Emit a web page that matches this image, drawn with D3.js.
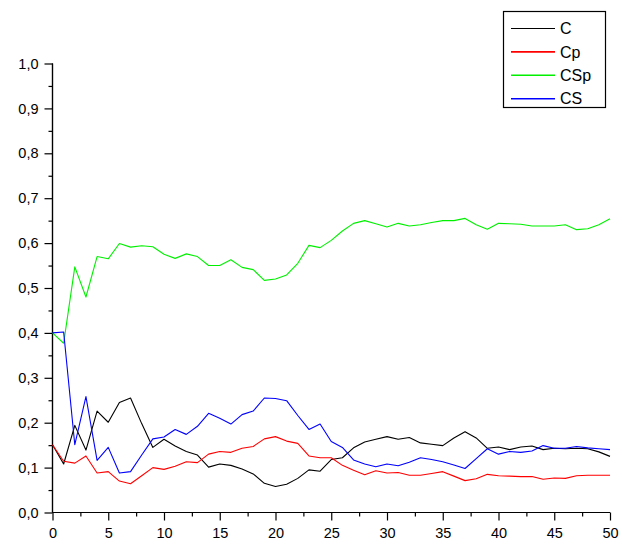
<!DOCTYPE html>
<html><head><meta charset="utf-8">
<script src="https://cdn.jsdelivr.net/npm/d3@7"></script>
<style>
html,body{margin:0;padding:0;background:#fff;}
svg{display:block;font-family:"Liberation Sans",Arial,sans-serif;}
</style></head>
<body>
<svg id="chart" width="622" height="545"></svg>
<script>
const seriesNames = ["C","Cp","CSp","CS"];
const seriesColors = ["#000000","#ff0000","#00f000","#0000ff"];
const xValues = d3.range(0,51);
const C = [0.151,0.108,0.194,0.139,0.226,0.201,0.245,0.255,0.198,0.145,0.163,0.148,0.136,0.128,0.101,0.108,0.105,0.097,0.086,0.065,0.058,0.063,0.076,0.095,0.092,0.118,0.122,0.144,0.157,0.163,0.169,0.163,0.167,0.155,0.152,0.149,0.166,0.180,0.166,0.143,0.146,0.140,0.146,0.148,0.140,0.143,0.142,0.143,0.142,0.135,0.125];
const Cp = [0.151,0.114,0.110,0.126,0.088,0.091,0.070,0.064,0.082,0.100,0.096,0.103,0.113,0.111,0.130,0.136,0.134,0.143,0.147,0.164,0.169,0.159,0.154,0.126,0.122,0.122,0.105,0.094,0.084,0.093,0.088,0.089,0.083,0.083,0.087,0.091,0.081,0.071,0.075,0.085,0.082,0.081,0.080,0.080,0.074,0.077,0.076,0.082,0.083,0.083,0.083];
const CSp = [0.400,0.377,0.547,0.480,0.570,0.565,0.599,0.591,0.594,0.592,0.575,0.566,0.576,0.570,0.550,0.550,0.563,0.546,0.541,0.517,0.520,0.529,0.555,0.595,0.590,0.606,0.627,0.644,0.650,0.643,0.636,0.644,0.638,0.641,0.646,0.650,0.650,0.655,0.641,0.631,0.644,0.643,0.642,0.638,0.638,0.638,0.641,0.630,0.632,0.641,0.654];
const CS = [0.400,0.402,0.151,0.258,0.116,0.145,0.088,0.091,0.128,0.164,0.168,0.185,0.174,0.192,0.221,0.210,0.197,0.218,0.226,0.255,0.254,0.249,0.216,0.185,0.197,0.158,0.145,0.117,0.108,0.102,0.108,0.104,0.112,0.122,0.118,0.113,0.106,0.098,0.120,0.142,0.130,0.136,0.134,0.137,0.149,0.143,0.143,0.147,0.144,0.142,0.140];
const xMajorTicks = [0,5,10,15,20,25,30,35,40,45,50];
const xMinorTicks = [2.5,7.5,12.5,17.5,22.5,27.5,32.5,37.5,42.5,47.5];
const yMajorTicks = [0,0.1,0.2,0.3,0.4,0.5,0.6,0.7,0.8,0.9,1.0];
const yMinorTicks = [0.05,0.15,0.25,0.35,0.45,0.55,0.65,0.75,0.85,0.95];

const allSeries = [C,Cp,CSp,CS];
const svg = d3.select("#chart");
const x = d3.scaleLinear().domain([0,50]).range([52.5,610]);
const y = d3.scaleLinear().domain([0,1]).range([512.5,63.5]);
const fmtY = v => d3.format(".1f")(v).replace(".",",");

// axes
const gx = svg.append("g").attr("transform",`translate(0,${y(0)})`);
gx.call(d3.axisBottom(x).tickValues(xMajorTicks).tickSize(8).tickPadding(7).tickFormat(d3.format("d")));
gx.append("g").call(d3.axisBottom(x).tickValues(xMinorTicks).tickSize(4).tickFormat(""));
const gy = svg.append("g").attr("transform",`translate(${x(0)},0)`);
gy.call(d3.axisLeft(y).tickValues(yMajorTicks).tickSize(8).tickPadding(6).tickFormat(fmtY));
gy.append("g").call(d3.axisLeft(y).tickValues(yMinorTicks).tickSize(4).tickFormat(""));
svg.selectAll(".domain").attr("stroke","#000").attr("stroke-width",1.2);
svg.selectAll(".tick line").attr("stroke","#000").attr("stroke-width",1.2);
svg.selectAll(".tick text").attr("fill","#000").style("font-size","14.5px").style("font-family","'Liberation Sans',Arial,sans-serif");
gx.selectAll(".domain").attr("d",`M${x(0)},0H${x(50)}`);
gy.selectAll(".domain").attr("d",`M0,${y(0)}V${y(1)}`);

// lines
const line = d3.line().x((d,i)=>x(xValues[i])).y(d=>y(d));
allSeries.forEach((s,k)=>{
  svg.append("path").datum(s).attr("fill","none").attr("stroke",seriesColors[k])
    .attr("stroke-width",1.1).attr("stroke-linejoin","round").attr("d",line);
});

// legend
const lg = svg.append("g");
lg.append("rect").attr("x",503.5).attr("y",11.5).attr("width",102).attr("height",96)
  .attr("fill","#fff").attr("stroke","#000").attr("stroke-width",1.2);
seriesNames.forEach((n,k)=>{
  const cy = 28.5 + k*23.4;
  lg.append("line").attr("x1",511).attr("x2",555).attr("y1",cy).attr("y2",cy)
    .attr("stroke",seriesColors[k]).attr("stroke-width",k===0?1.1:1.6);
  lg.append("text").attr("x",560).attr("y",cy).attr("dy","0.36em")
    .style("font-size","16px").attr("fill","#000").text(n);
});
</script>
</body></html>
